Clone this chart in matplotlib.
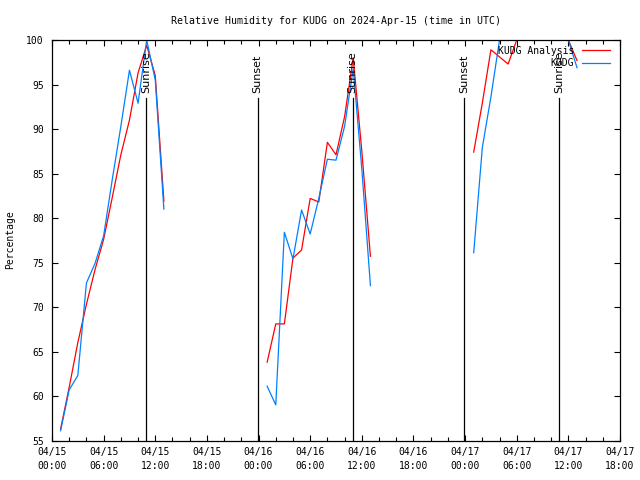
import matplotlib
matplotlib.use('Agg')
import matplotlib.pyplot as plt
import matplotlib.dates as mdates
import numpy as np
import pandas as pd

# hourly values, three morning segments (01:00-13:00 UTC each day)
seg_starts = ['2024-04-15 01:00', '2024-04-16 01:00', '2024-04-17 01:00']

analysis_day1 = [56.3, 61.0, 66.0, 70.3, 74.2, 77.6, 82.3, 87.1, 91.0, 96.3, 99.4, 96.0, 81.9]
analysis_day2 = [63.8, 68.1, 68.1, 75.5, 76.4, 82.2, 81.8, 88.5, 87.1, 91.4, 98.0, 87.5, 75.7]
analysis_day3 = [87.4, 92.9, 98.9, 98.1, 97.3, 100, 100, 100, 100, 100, 100, 100, 97.7]

obs_day1 = [56.1, 60.7, 62.3, 72.7, 74.9, 78.0, 84.3, 90.3, 96.6, 92.9, 100, 95.5, 81.0]
obs_day2 = [61.1, 59.0, 78.4, 75.4, 80.9, 78.2, 82.2, 86.6, 86.5, 90.3, 96.8, 85.5, 72.4]
obs_day3 = [76.1, 87.9, 93.6, 100, 100, 100, 100, 100, 100, 100, 100, 100, 96.9]

sun_times = ['2024-04-15 10:57', '2024-04-15 23:53', '2024-04-16 10:56',
             '2024-04-16 23:52', '2024-04-17 10:56']
sun_labels = ['Sunrise', 'Sunset', 'Sunrise', 'Sunset', 'Sunrise']

title = 'Relative Humidity for KUDG on 2024-Apr-15 (time in UTC)'
mono = 'DejaVu Sans Mono'

fig = plt.figure(figsize=(6.4, 4.8), dpi=100)
ax = fig.add_axes([52 / 640, 1 - 440.5 / 480, 568 / 640, 400.5 / 480])

red = '#ff0000'
blue = '#0080ff'

for i, (start, a, o) in enumerate(zip(seg_starts,
                                      [analysis_day1, analysis_day2, analysis_day3],
                                      [obs_day1, obs_day2, obs_day3])):
    t = pd.date_range(start, periods=len(a), freq='h')
    ax.plot(t, a, color=red, lw=0.9, label='KUDG Analysis' if i == 0 else None)
    ax.plot(t, o, color=blue, lw=0.9, label='KUDG' if i == 0 else None)

for st, lab in zip(sun_times, sun_labels):
    ts = pd.Timestamp(st)
    ax.plot([ts, ts], [55, 93.5], color='black', lw=0.9)
    ax.text(ts, 94.0, lab, rotation=90, ha='center', va='bottom',
            fontsize=8, family='DejaVu Sans')

ax.set_xlim(pd.Timestamp('2024-04-15 00:00'), pd.Timestamp('2024-04-17 18:00'))
ax.set_ylim(55, 100)
ax.set_yticks(np.arange(55, 101, 5))

ax.xaxis.set_major_locator(mdates.HourLocator(byhour=[0, 6, 12, 18]))
ax.xaxis.set_minor_locator(mdates.HourLocator(byhour=range(0, 24, 2)))
ax.xaxis.set_major_formatter(mdates.DateFormatter('%m/%d\n%H:%M'))

ax.tick_params(which='both', direction='in', top=True, right=True, width=0.8)
ax.tick_params(which='major', length=4)
ax.tick_params(which='minor', length=2.8)
ax.tick_params(axis='x', pad=5)
ax.tick_params(axis='y', pad=6)
for lbl in ax.get_xticklabels() + ax.get_yticklabels():
    lbl.set_family(mono)
    lbl.set_fontsize(7)
for lbl in ax.get_xticklabels():
    lbl.set_linespacing(1.4)

for sp in ax.spines.values():
    sp.set_linewidth(0.9)
    sp.set_zorder(3)

fig.text(336 / 640, 1 - 20.5 / 480, title, ha='center', va='center',
         family=mono, fontsize=7.1)
fig.text(10 / 640, 0.5, 'Percentage', rotation=90, ha='center', va='center',
         family=mono, fontsize=7)

ax.legend(loc='upper right', bbox_to_anchor=(610 / 640, 1 - 45.5 / 480),
          bbox_transform=fig.transFigure, frameon=False, markerfirst=False,
          prop={'family': mono, 'size': 7}, handlelength=2.9,
          handletextpad=0.8, labelspacing=0.3, borderpad=0, borderaxespad=0)

fig.savefig('out.png', dpi=100, facecolor='white')
